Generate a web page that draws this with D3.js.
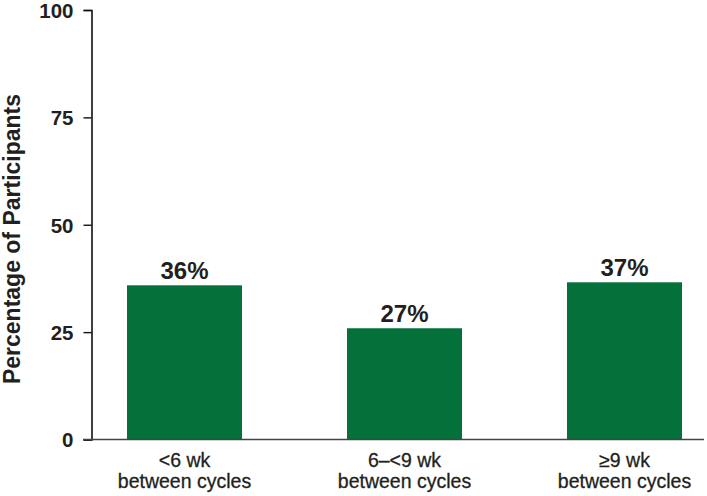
<!DOCTYPE html>
<html>
<head>
<meta charset="utf-8">
<script src="https://cdn.jsdelivr.net/npm/d3@7"></script>
<style>
  body { margin: 0; background: #fff; }
  text { font-family: "Liberation Sans", Arial, sans-serif; fill: #231f20; }
</style>
</head>
<body>
<svg id="chart"></svg>
<script>
const categories = ['<6 wk', '6\u2013<9 wk', '\u22659 wk'];
const subLabel = 'between cycles';
const values = [35.9, 25.9, 36.6];
const valueLabels = ['36%', '27%', '37%'];
const yTicks = [0, 25, 50, 75, 100];

const width = 707, height = 496;
const svg = d3.select('#chart')
  .attr('width', width)
  .attr('height', height);

const y = d3.scaleLinear()
  .domain([0, 100])
  .range([439.5, 10]);

const x = d3.scalePoint()
  .domain(categories)
  .range([184.5, 624.5]);

const barW = 115;
const axisX = 91.5;

// y axis
const yAxis = svg.append('g')
  .attr('transform', `translate(${axisX},0)`)
  .call(d3.axisLeft(y).tickValues(yTicks).tickSize(8).tickPadding(10));

yAxis.select('.domain').attr('stroke', '#111').attr('stroke-width', 1.6);
yAxis.selectAll('.tick line').attr('stroke', '#111').attr('stroke-width', 1.4);
yAxis.selectAll('.tick text')
  .style('font-size', '20.5px')
  .style('font-weight', 'bold')
  .attr('dy', '0.36em')
  .attr('fill', '#231f20');

// bars
svg.selectAll('.bar')
  .data(values)
  .enter()
  .append('rect')
  .attr('x', (d, i) => x(categories[i]) - barW / 2)
  .attr('y', d => y(d))
  .attr('width', barW)
  .attr('height', d => y(0) - y(d))
  .attr('fill', '#04703a');

// baseline
svg.append('line')
  .attr('x1', 83).attr('x2', 704)
  .attr('y1', y(0)).attr('y2', y(0))
  .attr('stroke', '#444')
  .attr('stroke-width', 1.6);

// value labels
svg.selectAll('.val')
  .data(values)
  .enter()
  .append('text')
  .attr('x', (d, i) => x(categories[i]))
  .attr('y', d => y(d) - 6)
  .attr('text-anchor', 'middle')
  .style('font-size', '24px')
  .style('font-weight', 'bold')
  .text((d, i) => valueLabels[i]);

// category labels
const cat = svg.selectAll('.cat')
  .data(categories)
  .enter()
  .append('text')
  .attr('x', d => x(d))
  .attr('y', 467)
  .attr('text-anchor', 'middle')
  .style('font-size', '19.5px')
  .style('stroke', '#231f20')
  .style('stroke-width', 0.3);

cat.append('tspan').attr('x', d => x(d)).text(d => d);
cat.append('tspan').attr('x', d => x(d)).attr('dy', 21).text(subLabel);

// y title
svg.append('text')
  .attr('transform', 'translate(20,239) rotate(-90)')
  .attr('text-anchor', 'middle')
  .style('font-size', '23px')
  .style('font-weight', 'bold')
  .text('Percentage of Participants');
</script>
</body>
</html>
